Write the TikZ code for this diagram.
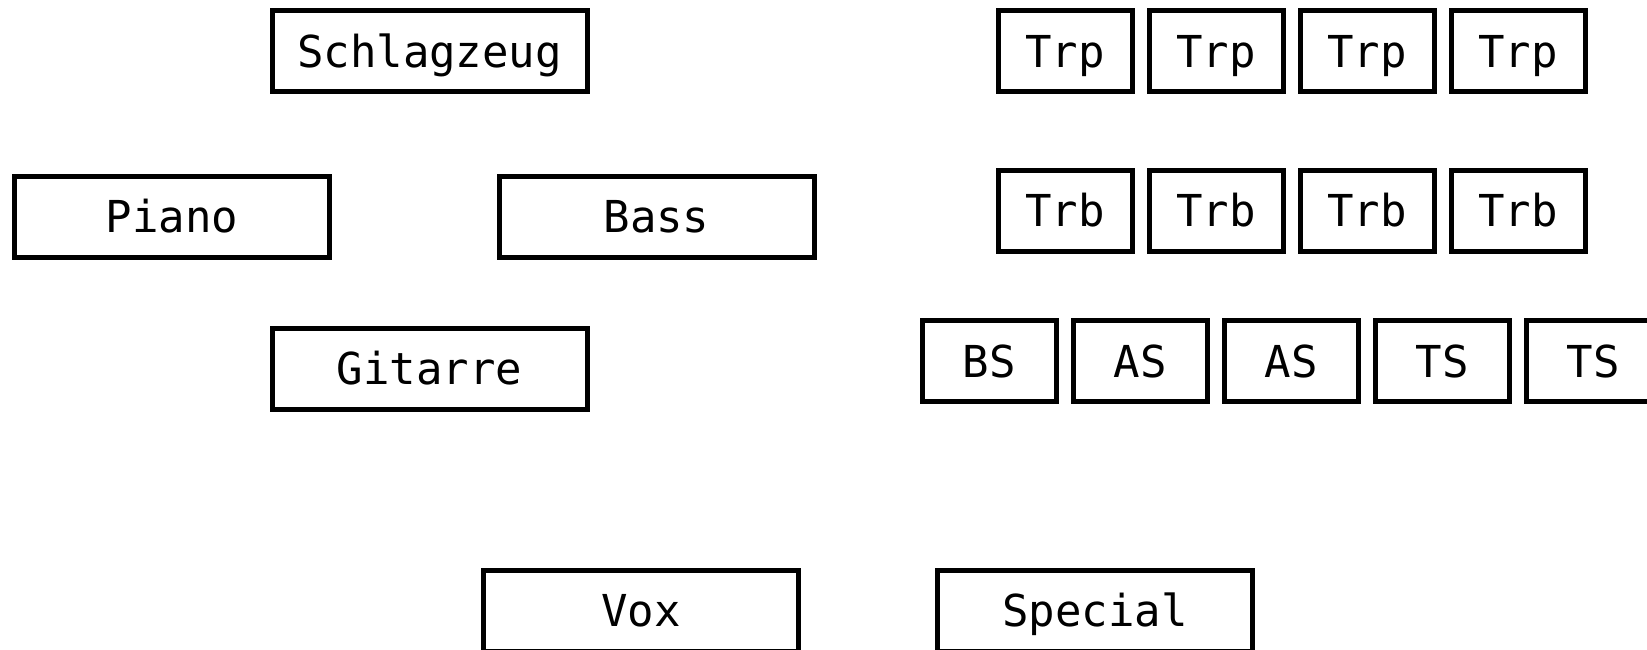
\documentclass[tikz,border=0pt]{standalone}
\usepackage{fontspec}
\setmonofont{DejaVu Sans Mono}
\begin{document}
\begin{tikzpicture}[x=1pt,y=-1pt,
  inst/.style={draw=black, line width=5pt, fill=white, inner sep=0pt,
    minimum width=315pt, minimum height=81pt,
    font=\ttfamily\fontsize{44}{50}\selectfont, text height=32pt, text depth=0pt},
  small/.style={inst, minimum width=134pt}]
\useasboundingbox (0,0) rectangle (1647,649);
\node[inst] (schlag) at (429.5,51) {Schlagzeug};
\node[inst] (piano) at (172,216.5) {Piano};
\node[inst] (bass) at (656.5,216.5) {Bass};
\node[inst] (git) at (429.5,368.5) {Gitarre};
\node[small] (trp1) at (1065,51) {Trp};
\node[small] (trp2) at (1216,51) {Trp};
\node[small] (trp3) at (1367,51) {Trp};
\node[small] (trp4) at (1518,51) {Trp};
\node[small] (trb1) at (1065,210.5) {Trb};
\node[small] (trb2) at (1216,210.5) {Trb};
\node[small] (trb3) at (1367,210.5) {Trb};
\node[small] (trb4) at (1518,210.5) {Trb};
\node[small] (bs) at (989,361) {BS};
\node[small] (as1) at (1140,361) {AS};
\node[small] (as2) at (1291,361) {AS};
\node[small] (ts1) at (1442,361) {TS};
\node[small] (ts2) at (1593,361) {TS};
\node[inst] (vox) at (641,610.5) {Vox};
\node[inst] (special) at (1095,610.5) {Special};
\end{tikzpicture}
\end{document}
